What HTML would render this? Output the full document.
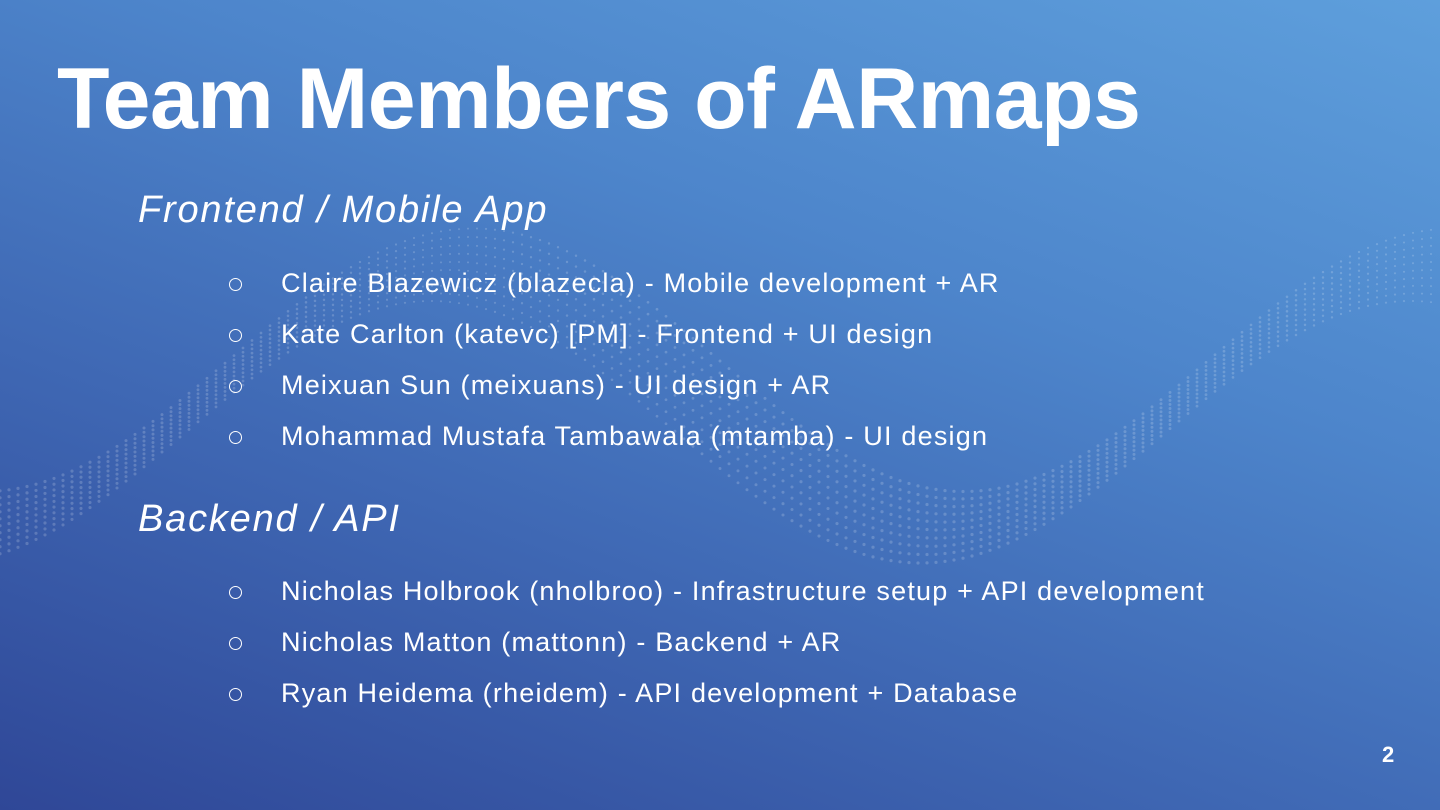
<!DOCTYPE html>
<html><head><meta charset="utf-8"><style>
html,body{margin:0;padding:0}
body{width:1440px;height:810px;overflow:hidden;position:relative;font-family:"Liberation Sans",sans-serif;color:#fff;
background:linear-gradient(200deg,#5e9fdc 0%,#4d85cb 35%,#3f68b4 65%,#2f4797 100%);}
.t{position:absolute;left:57px;top:50px;font-size:86px;font-weight:bold;letter-spacing:-0.5px;white-space:nowrap}
.h{position:absolute;left:138px;font-size:38px;font-style:italic;letter-spacing:1.8px;white-space:nowrap}
.b{position:absolute;left:281px;font-size:27px;letter-spacing:1.2px;white-space:nowrap}
.c{position:absolute;left:229px;width:11px;height:11px;border:1.6px solid #fff;border-radius:50%}
.n{position:absolute;left:1382px;top:742px;font-size:22px;font-weight:bold}
svg{position:absolute;left:0;top:0}
</style></head><body>
<svg width="1440" height="810">
<g fill="#ffffff" opacity="0.18" id="w"></g>
</svg>
<script>
var g=document.getElementById('w'),s='';
for(var k=0;k<10;k++){for(var x=0;x<1440;x+=9){
var ph=2*Math.PI*(x-450)/980;
var y=400-130*Math.cos(ph)+(k-5)*(8+4*Math.sin(ph));
var r=1.0+0.6*Math.abs(Math.sin(ph/2));
s+='<circle cx="'+x+'" cy="'+y.toFixed(1)+'" r="'+r.toFixed(2)+'"/>';}}
g.innerHTML=s;
</script>
<div class="t">Team Members of ARmaps</div>
<div class="h" style="top:189px">Frontend / Mobile App</div>
<div class="c" style="top:278px"></div><div class="b" style="top:268px">Claire Blazewicz (blazecla) - Mobile development + AR</div>
<div class="c" style="top:329px"></div><div class="b" style="top:319px">Kate Carlton (katevc) [PM] - Frontend + UI design</div>
<div class="c" style="top:380px"></div><div class="b" style="top:370px">Meixuan Sun (meixuans) - UI design + AR</div>
<div class="c" style="top:431px"></div><div class="b" style="top:421px">Mohammad Mustafa Tambawala (mtamba) - UI design</div>
<div class="h" style="top:498px">Backend / API</div>
<div class="c" style="top:586px"></div><div class="b" style="top:576px">Nicholas Holbrook (nholbroo) - Infrastructure setup + API development</div>
<div class="c" style="top:637px"></div><div class="b" style="top:627px">Nicholas Matton (mattonn) - Backend + AR</div>
<div class="c" style="top:688px"></div><div class="b" style="top:678px">Ryan Heidema (rheidem) - API development + Database</div>
<div class="n">2</div>
</body></html>
